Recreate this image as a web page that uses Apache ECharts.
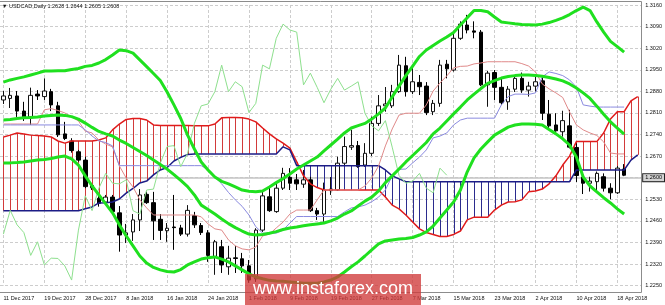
<!DOCTYPE html>
<html><head><meta charset="utf-8">
<script src="https://cdn.jsdelivr.net/npm/echarts@6/dist/echarts.min.js"></script>
<style>html,body{margin:0;padding:0;background:#fff}#c{width:665px;height:305px}</style>
</head><body><div id="c"></div>
<script>
const dates = ['11 Dec 2017','12 Dec 2017','13 Dec 2017','14 Dec 2017','15 Dec 2017','18 Dec 2017','19 Dec 2017','20 Dec 2017','21 Dec 2017','22 Dec 2017',
'26 Dec 2017','27 Dec 2017','28 Dec 2017','29 Dec 2017','2 Jan 2018','3 Jan 2018','4 Jan 2018','5 Jan 2018','8 Jan 2018','9 Jan 2018',
'10 Jan 2018','11 Jan 2018','12 Jan 2018','15 Jan 2018','16 Jan 2018','17 Jan 2018','18 Jan 2018','19 Jan 2018','22 Jan 2018','23 Jan 2018',
'24 Jan 2018','25 Jan 2018','26 Jan 2018','29 Jan 2018','30 Jan 2018','31 Jan 2018','1 Feb 2018','2 Feb 2018','5 Feb 2018','6 Feb 2018',
'7 Feb 2018','8 Feb 2018','9 Feb 2018','12 Feb 2018','13 Feb 2018','14 Feb 2018','15 Feb 2018','16 Feb 2018','19 Feb 2018','20 Feb 2018',
'21 Feb 2018','22 Feb 2018','23 Feb 2018','26 Feb 2018','27 Feb 2018','28 Feb 2018','1 Mar 2018','2 Mar 2018','5 Mar 2018','6 Mar 2018',
'7 Mar 2018','8 Mar 2018','9 Mar 2018','12 Mar 2018','13 Mar 2018','14 Mar 2018','15 Mar 2018','16 Mar 2018','19 Mar 2018','20 Mar 2018',
'21 Mar 2018','22 Mar 2018','23 Mar 2018','26 Mar 2018','27 Mar 2018','28 Mar 2018','29 Mar 2018','30 Mar 2018','2 Apr 2018','3 Apr 2018',
'4 Apr 2018','5 Apr 2018','6 Apr 2018','9 Apr 2018','10 Apr 2018','11 Apr 2018','12 Apr 2018','13 Apr 2018','16 Apr 2018','17 Apr 2018',
'18 Apr 2018','19 Apr 2018','20 Apr 2018','23 Apr 2018'];

const open = [1.2852,1.2857,1.2865,1.2816,1.2797,1.2871,1.2863,1.2879,1.2833,1.2742,
1.2719,1.2684,1.2657,1.2567,1.2533,1.2521,1.2537,1.2486,1.2414,1.2424,
1.2463,1.2546,1.2519,1.2465,1.2428,1.2440,1.2437,1.2417,1.2477,1.2445,
1.2421,1.2344,1.2376,1.2311,1.2340,1.2337,1.2314,1.2272,1.2430,1.2538,
1.2490,1.2566,1.2601,1.2593,1.2579,1.2593,1.2493,1.2482,1.2558,1.2560,
1.2647,1.2699,1.2704,1.2641,1.2679,1.2776,1.2833,1.2833,1.2879,1.2963,
1.2879,1.2909,1.2897,1.2814,1.2841,1.2968,1.2949,1.3052,1.3095,1.3076,
1.3072,1.2901,1.2941,1.2893,1.2846,1.2887,1.2922,1.2884,1.2897,1.2914,
1.2806,1.2771,1.2749,1.2768,1.2698,1.2602,1.2582,1.2587,1.2603,1.2566,
1.2551,1.2628];
const high = [1.2881,1.2891,1.2881,1.2846,1.2892,1.2884,1.2922,1.2888,1.2846,1.2781,
1.2728,1.2690,1.2668,1.2583,1.2544,1.2544,1.2544,1.2508,1.2450,1.2482,
1.2563,1.2555,1.2554,1.2482,1.2453,1.2544,1.2447,1.2511,1.2489,1.2453,
1.2430,1.2398,1.2398,1.2379,1.2379,1.2356,1.2333,1.2436,1.2560,1.2570,
1.2586,1.2632,1.2631,1.2612,1.2625,1.2603,1.2502,1.2584,1.2602,1.2668,
1.2733,1.2755,1.2719,1.2712,1.2798,1.2868,1.2894,1.2901,1.2998,1.2992,
1.2960,1.2933,1.2910,1.2852,1.2982,1.2982,1.3068,1.3107,1.3128,1.3107,
1.3079,1.2946,1.2949,1.2922,1.2897,1.2933,1.2941,1.2911,1.2928,1.2926,
1.2852,1.2809,1.2817,1.2820,1.2712,1.2612,1.2603,1.2620,1.2614,1.2582,
1.2638,1.2644];
const low = [1.2839,1.2826,1.2797,1.2784,1.2771,1.2852,1.2852,1.2816,1.2732,1.2722,
1.2681,1.2652,1.2566,1.2560,1.2506,1.2515,1.2486,1.2360,1.2388,1.2395,
1.2427,1.2515,1.2398,1.2398,1.2392,1.2366,1.2411,1.2409,1.2437,1.2414,
1.2327,1.2285,1.2291,1.2285,1.2291,1.2291,1.2259,1.2262,1.2424,1.2489,
1.2486,1.2560,1.2560,1.2560,1.2567,1.2489,1.2463,1.2457,1.2544,1.2557,
1.2641,1.2690,1.2632,1.2635,1.2670,1.2768,1.2814,1.2826,1.2875,1.2863,
1.2871,1.2868,1.2803,1.2803,1.2830,1.2922,1.2944,1.3047,1.3068,1.3052,
1.2897,1.2830,1.2852,1.2836,1.2820,1.2878,1.2875,1.2863,1.2879,1.2787,
1.2760,1.2749,1.2733,1.2695,1.2586,1.2547,1.2555,1.2551,1.2555,1.2530,
1.2547,1.2605];
const close = [1.2865,1.2867,1.2816,1.2797,1.2867,1.2865,1.2881,1.2836,1.2739,1.2727,
1.2688,1.2657,1.2571,1.2575,1.2517,1.2537,1.2490,1.2414,1.2421,1.2463,
1.2544,1.2519,1.2460,1.2429,1.2436,1.2438,1.2417,1.2494,1.2447,1.2422,
1.2348,1.2392,1.2317,1.2339,1.2338,1.2314,1.2268,1.2430,1.2541,1.2493,
1.2566,1.2614,1.2582,1.2580,1.2593,1.2493,1.2482,1.2560,1.2563,1.2647,
1.2701,1.2704,1.2636,1.2679,1.2776,1.2833,1.2839,1.2879,1.2965,1.2879,
1.2911,1.2895,1.2811,1.2841,1.2965,1.2953,1.3052,1.3098,1.3079,1.3072,
1.2901,1.2939,1.2893,1.2843,1.2887,1.2922,1.2884,1.2897,1.2911,1.2809,
1.2768,1.2752,1.2785,1.2699,1.2607,1.2582,1.2589,1.2614,1.2566,1.2551,
1.2631,1.2608];

const bbUpper = [1.2910,1.2917,1.2922,1.2927,1.2933,1.2939,1.2946,1.2946,1.2947,1.2947,
1.2951,1.2954,1.2961,1.2964,1.2972,1.2983,1.2998,1.3014,1.3012,1.3004,
1.2982,1.2960,1.2938,1.2915,1.2878,1.2836,1.2792,1.2738,1.2693,1.2651,
1.2625,1.2602,1.2588,1.2580,1.2570,1.2560,1.2556,1.2554,1.2557,1.2570,
1.2584,1.2597,1.2612,1.2628,1.2641,1.2654,1.2667,1.2687,1.2706,1.2725,
1.2745,1.2761,1.2769,1.2776,1.2790,1.2807,1.2826,1.2862,1.2897,1.2931,
1.2962,1.2993,1.3014,1.3029,1.3043,1.3056,1.3071,1.3095,1.3119,1.3142,
1.3142,1.3138,1.3121,1.3105,1.3102,1.3099,1.3097,1.3096,1.3095,1.3098,
1.3103,1.3110,1.3118,1.3129,1.3142,1.3153,1.3142,1.3105,1.3072,1.3042,
1.3025,1.3007];
const bbMiddle = [1.2787,1.2789,1.2792,1.2794,1.2795,1.2797,1.2800,1.2802,1.2803,1.2802,
1.2798,1.2790,1.2777,1.2763,1.2750,1.2742,1.2735,1.2722,1.2711,1.2698,
1.2685,1.2672,1.2657,1.2643,1.2628,1.2610,1.2591,1.2571,1.2544,1.2511,
1.2497,1.2482,1.2466,1.2451,1.2438,1.2427,1.2417,1.2414,1.2416,1.2420,
1.2425,1.2432,1.2437,1.2440,1.2444,1.2447,1.2450,1.2453,1.2460,1.2469,
1.2482,1.2492,1.2508,1.2524,1.2537,1.2557,1.2584,1.2606,1.2628,1.2651,
1.2672,1.2693,1.2714,1.2742,1.2761,1.2784,1.2807,1.2829,1.2852,1.2871,
1.2889,1.2906,1.2915,1.2923,1.2928,1.2931,1.2933,1.2933,1.2931,1.2929,
1.2925,1.2920,1.2914,1.2904,1.2891,1.2875,1.2857,1.2832,1.2806,1.2781,
1.2761,1.2741];
const bbLower = [1.2648,1.2648,1.2649,1.2651,1.2654,1.2657,1.2659,1.2662,1.2667,1.2670,
1.2661,1.2641,1.2606,1.2573,1.2544,1.2515,1.2486,1.2447,1.2411,1.2379,
1.2346,1.2323,1.2309,1.2301,1.2296,1.2294,1.2302,1.2317,1.2327,1.2336,
1.2340,1.2343,1.2336,1.2327,1.2314,1.2301,1.2288,1.2278,1.2272,1.2267,
1.2265,1.2264,1.2262,1.2260,1.2258,1.2258,1.2258,1.2262,1.2268,1.2278,
1.2294,1.2311,1.2327,1.2346,1.2366,1.2385,1.2395,1.2398,1.2401,1.2403,
1.2406,1.2414,1.2424,1.2443,1.2469,1.2495,1.2521,1.2560,1.2619,1.2664,
1.2693,1.2716,1.2738,1.2751,1.2764,1.2771,1.2774,1.2774,1.2773,1.2771,
1.2756,1.2742,1.2726,1.2706,1.2667,1.2602,1.2573,1.2554,1.2535,1.2518,
1.2499,1.2482];

const tenkan = [1.2774,1.2774,1.2774,1.2774,1.2774,1.2774,1.2820,1.2824,1.2818,1.2810,
1.2797,1.2784,1.2751,1.2745,1.2722,1.2709,1.2700,1.2638,1.2599,1.2570,
1.2528,1.2502,1.2479,1.2479,1.2479,1.2479,1.2479,1.2479,1.2479,1.2473,
1.2450,1.2434,1.2430,1.2398,1.2379,1.2369,1.2366,1.2375,1.2411,1.2417,
1.2437,1.2456,1.2482,1.2495,1.2495,1.2495,1.2528,1.2560,1.2560,1.2560,
1.2560,1.2560,1.2560,1.2573,1.2599,1.2638,1.2703,1.2758,1.2803,1.2809,
1.2809,1.2809,1.2836,1.2881,1.2907,1.2930,1.2956,1.2961,1.2962,1.2969,
1.2972,1.2976,1.2976,1.2976,1.2976,1.2976,1.2970,1.2962,1.2943,1.2904,
1.2888,1.2875,1.2860,1.2813,1.2771,1.2755,1.2745,1.2737,1.2716,1.2680,
1.2677,1.2677];
const kijun = [1.2771,1.2771,1.2771,1.2771,1.2771,1.2771,1.2771,1.2771,1.2771,1.2771,
1.2771,1.2771,1.2755,1.2735,1.2719,1.2714,1.2703,1.2639,1.2639,1.2639,
1.2639,1.2639,1.2639,1.2639,1.2639,1.2639,1.2639,1.2639,1.2639,1.2639,
1.2625,1.2602,1.2580,1.2552,1.2528,1.2507,1.2479,1.2441,1.2420,1.2420,
1.2420,1.2430,1.2453,1.2474,1.2474,1.2474,1.2474,1.2474,1.2474,1.2474,
1.2489,1.2502,1.2505,1.2511,1.2522,1.2537,1.2560,1.2606,1.2627,1.2628,
1.2648,1.2667,1.2690,1.2729,1.2735,1.2745,1.2771,1.2787,1.2793,1.2793,
1.2793,1.2793,1.2793,1.2836,1.2863,1.2871,1.2871,1.2870,1.2875,1.2927,
1.2943,1.2938,1.2931,1.2917,1.2894,1.2836,1.2832,1.2829,1.2829,1.2829,
1.2829,1.2829];
const chikou = [1.2417,1.2494,1.2447,1.2422,1.2348,1.2392,1.2317,1.2339,1.2338,1.2314,
1.2268,1.2430,1.2541,1.2493,1.2566,1.2614,1.2582,1.2580,1.2593,1.2493,
1.2482,1.2560,1.2563,1.2647,1.2701,1.2704,1.2636,1.2679,1.2776,1.2833,
1.2839,1.2879,1.2965,1.2879,1.2911,1.2895,1.2811,1.2841,1.2965,1.2953,
1.3052,1.3098,1.3079,1.3072,1.2901,1.2939,1.2893,1.2843,1.2887,1.2922,
1.2884,1.2897,1.2911,1.2809,1.2768,1.2752,1.2785,1.2699,1.2607,1.2582,
1.2589,1.2614,1.2566,1.2551,1.2631,1.2608];
const spanA = [1.2732,1.2738,1.2745,1.2742,1.2738,1.2737,1.2735,1.2732,1.2719,1.2712,
1.2719,1.2719,1.2719,1.2719,1.2722,1.2729,1.2755,1.2774,1.2789,1.2792,
1.2792,1.2787,1.2771,1.2769,1.2769,1.2769,1.2769,1.2769,1.2768,1.2768,
1.2768,1.2774,1.2794,1.2795,1.2795,1.2794,1.2790,1.2781,1.2761,1.2742,
1.2726,1.2712,1.2696,1.2651,1.2606,1.2580,1.2568,1.2560,1.2560,1.2560,
1.2560,1.2560,1.2560,1.2560,1.2560,1.2560,1.2537,1.2511,1.2499,1.2479,
1.2456,1.2434,1.2422,1.2416,1.2409,1.2409,1.2416,1.2427,1.2463,1.2472,
1.2472,1.2472,1.2495,1.2511,1.2521,1.2522,1.2528,1.2554,1.2557,1.2563,
1.2580,1.2606,1.2641,1.2670,1.2717,1.2717,1.2717,1.2717,1.2745,1.2790,
1.2814,1.2814,1.2849,1.2863];
const spanB = [1.2493,1.2493,1.2493,1.2493,1.2493,1.2493,1.2493,1.2493,1.2493,1.2493,
1.2493,1.2493,1.2499,1.2505,1.2518,1.2519,1.2521,1.2531,1.2550,1.2565,
1.2583,1.2589,1.2609,1.2625,1.2633,1.2654,1.2666,1.2675,1.2677,1.2677,
1.2677,1.2677,1.2677,1.2677,1.2677,1.2677,1.2677,1.2677,1.2677,1.2677,
1.2677,1.2700,1.2690,1.2639,1.2639,1.2639,1.2639,1.2639,1.2639,1.2639,
1.2639,1.2639,1.2639,1.2639,1.2639,1.2639,1.2625,1.2606,1.2596,1.2587,
1.2587,1.2587,1.2587,1.2587,1.2587,1.2587,1.2587,1.2587,1.2587,1.2587,
1.2587,1.2587,1.2587,1.2587,1.2587,1.2587,1.2587,1.2587,1.2587,1.2587,
1.2587,1.2587,1.2587,1.2587,1.2625,1.2625,1.2625,1.2625,1.2625,1.2625,
1.2625,1.2625,1.2657,1.2674];

const priceMin = 1.2250, priceMax = 1.3160, priceStep = 0.0070;
const symbolTitle = 'USDCAD,Daily';

const FONT = 'Liberation Sans, Arial, sans-serif';
const last = close.length - 1;
const candles = open.map((o, i) => [o, close[i], low[i], high[i]]);
const cloud = spanA.map((a, i) => [i, a, spanB[i]]);
const gridLine = {color: '#cdcdcd', width: 1, type: [3, 2]};

const chart = echarts.init(document.getElementById('c'), null, {renderer: 'canvas'});
const lineS = (name, data, color, width, z) => ({
  name, type: 'line', data, showSymbol: false, symbol: 'none', z,
  lineStyle: {color, width}, silent: true
});

chart.setOption({
  animation: false,
  backgroundColor: '#ffffff',
  grid: {left: -4.4, right: 23.6, top: 5, bottom: 19.4},
  xAxis: {
    type: 'category', data: dates, boundaryGap: true,
    axisLine: {show: false}, axisTick: {show: false},
    axisLabel: {interval: 5, align: 'left', fontSize: 5.5, color: '#111', margin: 10, fontFamily: FONT},
    splitLine: {show: true, interval: 5, alignWithLabel: true, lineStyle: gridLine}
  },
  yAxis: {
    type: 'value', position: 'right', min: priceMin, max: priceMax, interval: priceStep,
    axisLine: {show: false}, axisTick: {show: false},
    axisLabel: {fontSize: 5.5, color: '#111', margin: 4, fontFamily: FONT, formatter: v => v.toFixed(4)},
    splitLine: {show: true, lineStyle: gridLine}
  },
  series: [
    {
      name: 'kumo', type: 'custom', data: cloud, z: 1, silent: true,
      encode: {x: 0, y: [1, 2]},
      renderItem: (params, api) => {
        const i = api.value(0), a = api.value(1), b = api.value(2);
        const p1 = api.coord([i, a]), p2 = api.coord([i, b]);
        const x = Math.round(p1[0]) + 0.5;
        return {type: 'line', shape: {x1: x, y1: p1[1], x2: x, y2: p2[1]},
          style: {stroke: a >= b ? '#d23a3a' : '#2b2b8e', lineWidth: 1}};
      }
    },
    {
      name: 'price', type: 'candlestick', data: candles, z: 2, barWidth: 4,
      itemStyle: {color: '#ffffff', color0: '#000000', borderColor: '#111111', borderColor0: '#000000', borderWidth: 1},
      markLine: {
        silent: true, symbol: ['none', 'none'], z: 1,
        lineStyle: {color: '#c4c4c4', width: 1.5, type: 'solid'},
        label: {show: true, position: 'end', distance: 2, formatter: p => p.value.toFixed(4),
          fontSize: 5.5, fontFamily: FONT, color: '#000', backgroundColor: '#d4d4d4',
          borderColor: '#222', borderWidth: 1, padding: [1, 2, 0, 2]},
        data: [{yAxis: close[last]}]
      }
    },
    lineS('Senkou A', spanA, '#e01b1b', 1.5, 3),
    lineS('Senkou B', spanB, '#1c1c86', 1.5, 3),
    lineS('Tenkan', tenkan, '#e08a8a', 1, 3),
    lineS('Kijun', kijun, '#8a8ae0', 1, 3),
    lineS('Chikou', chikou, '#8ee08e', 1, 3),
    lineS('BB upper', bbUpper, '#1fe01f', 3, 4),
    lineS('BB middle', bbMiddle, '#1fe01f', 3, 4),
    lineS('BB lower', bbLower, '#1fe01f', 3, 4)
  ],
  graphic: [
    {type: 'line', shape: {x1: 0, y1: 1.5, x2: 641.5, y2: 1.5}, style: {stroke: '#8c8c8c', lineWidth: 1}, z: 50, silent: true},
    {type: 'line', shape: {x1: 641.5, y1: 1.5, x2: 641.5, y2: 292.5}, style: {stroke: '#8c8c8c', lineWidth: 1}, z: 50, silent: true},
    {type: 'line', shape: {x1: 0, y1: 292.5, x2: 641.5, y2: 292.5}, style: {stroke: '#8c8c8c', lineWidth: 1}, z: 50, silent: true},
    {type: 'text', left: 2, top: 3, z: 60, silent: true,
      style: {text: '\u25BC ' + symbolTitle + ' ' + [open[last], high[last], low[last], close[last]].map(v => v.toFixed(4)).join(' '),
        fontSize: 5.5, fontFamily: FONT, fill: '#111'}},
    {type: 'rect', shape: {x: 245, y: 274, width: 176, height: 31}, style: {fill: 'rgba(208,58,58,0.78)'}, z: 90, silent: true},
    {type: 'text', x: 333, y: 289, z: 91, silent: true,
      style: {text: 'www.instaforex.com', fontSize: 18, fontFamily: FONT, fill: '#ffffff', align: 'center', verticalAlign: 'middle'}}
  ]
});
</script>
</body></html>
